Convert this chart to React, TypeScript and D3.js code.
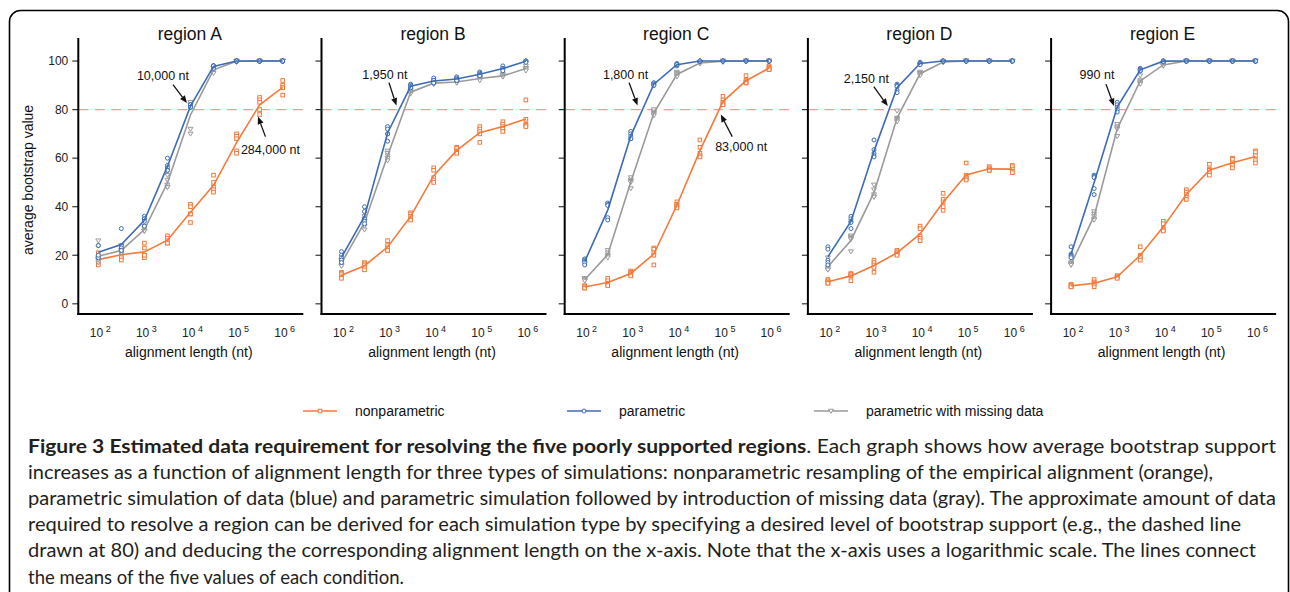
import React from 'react';
import * as d3 from 'd3';

// ---------------- data ----------------
const LENGTHS = [100, 316, 1000, 3162, 10000, 31623, 100000, 316228, 1000000];
const X_TICKS = [1e2, 1e3, 1e4, 1e5, 1e6];
const X_TICK_EXP = ['2', '3', '4', '5', '6'];
const Y_TICKS = [0, 20, 40, 60, 80, 100];
const THRESHOLD = 80;
const REGION_NAMES = ['region A', 'region B', 'region C', 'region D', 'region E'];
const SERIES_NAMES = ['nonparametric', 'parametric', 'parametric with missing data'];

// replicate values (5 per alignment length)
const nonparamA = [
  [21, 19, 18, 17, 16], [23, 21, 20, 19, 18], [25, 23, 20, 19, 20], [28, 27, 26, 25, 25],
  [41, 40, 37, 37, 33.5], [53, 50, 48, 47, 46], [70, 69, 68, 63, 62], [85, 84, 83, 80, 78],
  [92, 90, 89, 89, 86],
];
const paramA = [
  [24, 24, 19, 19, 20], [31, 24, 23, 22, 22], [36, 35, 35, 34, 32], [60, 57, 56, 55, 55],
  [82, 82, 81, 81, 81], [98, 98, 97, 98, 98], [100, 100, 100, 100, 100], [100, 100, 100, 100, 100],
  [100, 100, 100, 100, 100],
];
const missA = [
  [26, 19, 18, 17, 18], [24, 22, 22, 21, 21], [32, 31, 30, 30, 30], [53, 51, 49, 48, 48],
  [72, 70, 83, 82, 82], [97, 96, 95, 97, 97], [100, 100, 99.5, 100, 100], [100, 100, 100, 100, 100],
  [100, 100, 100, 100, 100],
];
const nonparamB = [
  [13, 12.5, 12, 11, 10.5], [17, 16.5, 16, 15, 14], [26, 24, 23, 22, 22], [37.5, 37, 36, 35, 34.5],
  [56, 55, 52, 51, 50], [64.5, 64, 63, 62.5, 62], [73, 72, 71, 70, 66.5], [75, 74, 73, 72, 71],
  [84, 76, 74, 73.5, 73],
];
const paramB = [
  [21.5, 20, 19, 18, 17], [40, 38, 35, 34, 33], [73, 72, 70, 67, 70], [90.5, 90, 89.5, 89, 89],
  [93, 92, 92, 91, 91], [93.5, 93, 92.5, 92, 92], [95.5, 95, 94.5, 94, 94], [98, 97, 97, 96.5, 96],
  [100, 100, 100, 100, 99.5],
];
const missB = [
  [18, 17.5, 17, 16, 15.5], [36, 35, 34, 32, 30.5], [63, 62, 61, 60, 59], [88, 87.5, 87, 87, 86.5],
  [91.5, 91, 91, 90.5, 90.5], [92, 91.5, 91.5, 91, 91], [93.5, 93, 93, 92.5, 92], [94.5, 94, 94, 93.5, 93.5],
  [98, 97, 97, 96.5, 96],
];
const nonparamC = [
  [7.5, 7, 7, 6.5, 6.5], [10.5, 9.5, 8.5, 8, 7.5], [13.5, 13, 12.5, 12, 11.5], [23, 22.5, 21, 20, 16],
  [42, 41, 40.5, 40, 39.5], [67.5, 64.5, 62, 61, 60.5], [85.5, 84, 83, 82, 82], [94, 92, 91.5, 91, 91],
  [98, 97.5, 97, 96.5, 96.5],
];
const paramC = [
  [18.5, 18, 17.5, 17, 16], [41.5, 41, 40.5, 35.5, 34.5], [71, 70, 69, 68, 68], [91, 91, 90.5, 90, 90],
  [99, 98.5, 98.5, 98, 98.5], [100, 100, 100, 100, 100], [100, 100, 100, 100, 100], [100, 100, 100, 100, 100],
  [100, 100, 100, 100, 100],
];
const missC = [
  [10.5, 10, 10, 9.5, 9.5], [22, 21, 20, 19.5, 19], [52, 51, 50.5, 50, 47.5], [80, 79, 78.5, 78, 77.5],
  [95.5, 95, 94.5, 94, 93.5], [99.5, 99.5, 99, 99, 99], [100, 100, 100, 99.5, 100], [100, 100, 100, 100, 100],
  [100, 100, 100, 100, 100],
];
const nonparamD = [
  [10, 9.5, 9, 8.5, 8.5], [12.5, 12, 12, 11.5, 9.5], [18, 17, 16, 15, 13], [22, 21.5, 21, 20.5, 20],
  [32, 31, 28, 27, 26], [45.5, 43, 42, 40, 38.5], [58, 53, 52, 51.5, 51], [56.5, 56, 55.5, 55, 55],
  [57, 56.5, 55.5, 54.5, 54],
];
const paramD = [
  [23.5, 22.5, 18, 17, 16], [36, 35, 34, 33.5, 31], [67.5, 63.5, 62, 61, 60.5], [90.5, 90, 89.5, 88, 87],
  [99.5, 99, 99, 99, 98.5], [100, 100, 100, 100, 100], [100, 100, 100, 100, 100], [100, 100, 100, 100, 100],
  [100, 100, 100, 100, 100],
];
const missD = [
  [19, 15, 14.5, 14, 14], [28, 27.5, 27, 26.5, 21.5], [49, 47, 45, 44, 44], [79.5, 76.5, 76, 75.5, 75],
  [95.5, 95, 95, 94.5, 94], [99.5, 99.5, 99.5, 99.5, 100], [100, 100, 100, 100, 100], [100, 100, 100, 100, 100],
  [100, 100, 100, 100, 100],
];
const nonparamE = [
  [8, 7.5, 7.5, 7, 7], [10, 9, 8.5, 8, 7], [11.5, 11.5, 11, 11, 10.5], [23.5, 20, 19.5, 19, 18],
  [34, 33, 31, 30.5, 30], [47, 46, 45, 44, 43], [57.5, 55.5, 55, 54, 53], [60, 59.5, 58, 57, 56],
  [63, 62.5, 61, 59, 58],
];
const paramE = [
  [23.5, 20.5, 20, 19.5, 19], [53, 52.5, 52, 47.5, 45], [83, 82, 81, 80, 79], [97, 96.5, 96.5, 96, 96],
  [100, 100, 100, 100, 99.8], [100, 100, 100, 100, 100], [100, 100, 100, 100, 100], [100, 100, 100, 100, 100],
  [100, 100, 100, 100, 100],
];
const missE = [
  [17, 16.5, 16.5, 16, 16], [38, 37, 36, 35, 34.5], [74, 73, 72.5, 72, 69], [94, 92, 91.5, 91, 90.5],
  [99, 98.5, 98.5, 98, 98], [100, 100, 100, 100, 100], [100, 100, 100, 100, 100], [100, 100, 100, 100, 100],
  [100, 100, 100, 100, 100],
];

const REGION_DATA = [
  [nonparamA, paramA, missA],
  [nonparamB, paramB, missB],
  [nonparamC, paramC, missC],
  [nonparamD, paramD, missD],
  [nonparamE, paramE, missE],
];

const ANNOT_LABELS = [['10,000 nt', '284,000 nt'], ['1,950 nt'], ['1,800 nt', '83,000 nt'], ['2,150 nt'], ['990 nt']];
const ANNOT_LENGTHS = [[10000, 284000], [1950], [1800, 83000], [2150], [990]];

const CAPTION_BOLD = 'Figure 3 Estimated data requirement for resolving the five poorly supported regions';
const CAPTION_LINE1_REST = '. Each graph shows how average bootstrap support';
const CAPTION_LINES = [
  'increases as a function of alignment length for three types of simulations: nonparametric resampling of the empirical alignment (orange),',
  'parametric simulation of data (blue) and parametric simulation followed by introduction of missing data (gray). The approximate amount of data',
  'required to resolve a region can be derived for each simulation type by specifying a desired level of bootstrap support (e.g., the dashed line',
  'drawn at 80) and deducing the corresponding alignment length on the x-axis. Note that the x-axis uses a logarithmic scale. The lines connect',
  'the means of the five values of each condition.',
];

// ---------------- layout / style ----------------
const W = 1290;
const H = 592;
const COLORS = ['#F47A3C', '#3C6CB5', '#9A9A9A'];
const DASH_COLOR = '#F39A9A';
const PANEL_X0 = 78.3;
const PANEL_STEP = 243.2;
const PANEL_W = 225;
const Y_TOP = 38;
const Y_BOTTOM = 314;
const CHART_FONT = '"Liberation Sans", Arial, sans-serif';
const CAPTION_FONT = 'Lato, "Open Sans", sans-serif';
// annotation offsets relative to (x(length), y(80)): tip, tail, text
const ANNOT_LAYOUT = [
  [
    { tip: [-3.5, -6.5], tail: [-17.5, -25], text: [-27.5, -30] },
    { tip: [0.5, 7], tail: [8, 27], text: [13, 44.5] },
  ],
  [{ tip: [-4.5, -4], tail: [-12, -27], text: [-16, -31] }],
  [
    { tip: [-5, -4], tail: [-13.5, -27], text: [-17, -31] },
    { tip: [1.5, 5], tail: [13, 27], text: [22, 41.5] },
  ],
  [{ tip: [-1.5, -3.5], tail: [-15.5, -23], text: [-23, -27] }],
  [{ tip: [-3, -3.5], tail: [-11, -25.5], text: [-20, -31] }],
];
const CAPTION_X = 28;
const CAPTION_BASE = 452.5;
const CAPTION_STEP = 26.2;
const CAPTION_WIDTHS = [1248, 1185, 1248, 1213, 1228];

const xScale = d3
  .scaleLog()
  .domain([Math.pow(10, 1.5662), Math.pow(10, 6.4476)])
  .range([0, PANEL_W]);
const yScale = d3.scaleLinear().domain([-4.2, 109.5]).range([Y_BOTTOM, Y_TOP]);

function Marker({ shape, x, y, color }: { shape: string; x: number; y: number; color: string }) {
  if (shape === 'square') {
    const s = 3.6;
    return <rect x={x - s / 2} y={y - s / 2} width={s} height={s} fill="white" stroke={color} strokeWidth={1} />;
  }
  if (shape === 'circle') {
    return <circle cx={x} cy={y} r={2} fill="white" stroke={color} strokeWidth={1} />;
  }
  const s = 2.5;
  return (
    <path
      d={`M${x - s},${y - s * 0.7} L${x + s},${y - s * 0.7} L${x},${y + s * 0.9} Z`}
      fill="white"
      stroke={color}
      strokeWidth={1}
    />
  );
}

const SHAPES = ['square', 'circle', 'triangle'];

function Arrow({ x1, y1, x2, y2 }: { x1: number; y1: number; x2: number; y2: number }) {
  const ang = Math.atan2(y2 - y1, x2 - x1);
  const L = 7.5;
  const Wd = 3;
  const bx = x2 - L * Math.cos(ang);
  const by = y2 - L * Math.sin(ang);
  const px = -Math.sin(ang) * Wd;
  const py = Math.cos(ang) * Wd;
  return (
    <g>
      <line x1={x1} y1={y1} x2={bx} y2={by} stroke="#111" strokeWidth={1.3} />
      <path d={`M${x2},${y2} L${bx + px},${by + py} L${bx - px},${by - py} Z`} fill="#111" />
    </g>
  );
}

function Panel({ index }: { index: number }) {
  const ox = PANEL_X0 + index * PANEL_STEP;
  const data = REGION_DATA[index];
  const order = [0, 2, 1];
  const line = d3
    .line<number>()
    .x((_, i) => xScale(LENGTHS[i]))
    .y((d) => yScale(d));
  return (
    <g transform={`translate(${ox},0)`} fontFamily={CHART_FONT}>
      <text x={PANEL_W / 2 - 1} y={40} textAnchor="middle" fontSize={17.5} fill="#111">
        {REGION_NAMES[index]}
      </text>
      {/* threshold */}
      <line
        x1={0}
        x2={PANEL_W}
        y1={yScale(THRESHOLD)}
        y2={yScale(THRESHOLD)}
        stroke={DASH_COLOR}
        strokeWidth={1.4}
        strokeDasharray="10,6.5"
      />
      {/* y ticks */}
      {Y_TICKS.map((t) => (
        <g key={t}>
          <line x1={-6} x2={0} y1={yScale(t)} y2={yScale(t)} stroke="#333" strokeWidth={1.2} />
          {index === 0 && (
            <text x={-10} y={yScale(t)} dy="0.36em" textAnchor="end" fontSize={12} fill="#222">
              {t}
            </text>
          )}
        </g>
      ))}
      {index === 0 && (
        <text
          transform={`translate(${-45},${(Y_TOP + Y_BOTTOM) / 2 + 4}) rotate(-90)`}
          textAnchor="middle"
          fontSize={14}
          fill="#111"
        >
          average bootstrap value
        </text>
      )}
      {/* series */}
      {order.map((s) => {
        const reps = data[s];
        const means = reps.map((r) => d3.mean(r) as number);
        return (
          <g key={s}>
            {reps.map((r, i) =>
              r.map((v, k) => (
                <Marker key={`${i}-${k}`} shape={SHAPES[s]} x={xScale(LENGTHS[i])} y={yScale(v)} color={COLORS[s]} />
              ))
            )}
            <path d={line(means) || ''} fill="none" stroke={COLORS[s]} strokeWidth={1.6} />
          </g>
        );
      })}
      {/* axes */}
      <line x1={0} x2={0} y1={Y_TOP} y2={Y_BOTTOM + 1} stroke="#000" strokeWidth={2} />
      <line x1={-1} x2={PANEL_W} y1={Y_BOTTOM} y2={Y_BOTTOM} stroke="#000" strokeWidth={2} />
      {X_TICKS.map((t, i) => (
        <text key={t} x={xScale(t) + 2} y={337} textAnchor="middle" fontSize={12} fill="#222">
          <tspan>10</tspan>
          <tspan dx={2.5} dy={-5} fontSize={9}>
            {X_TICK_EXP[i]}
          </tspan>
        </text>
      ))}
      <text x={PANEL_W / 2 - 2} y={357} textAnchor="middle" fontSize={14} fill="#111">
        alignment length (nt)
      </text>
      {/* annotations */}
      {ANNOT_LENGTHS[index].map((len, a) => {
        const lay = ANNOT_LAYOUT[index][a];
        const tx = xScale(len);
        const ty = yScale(THRESHOLD);
        return (
          <g key={a}>
            <Arrow x1={tx + lay.tail[0]} y1={ty + lay.tail[1]} x2={tx + lay.tip[0]} y2={ty + lay.tip[1]} />
            <text x={tx + lay.text[0]} y={ty + lay.text[1]} textAnchor="middle" fontSize={12.5} fill="#111">
              {ANNOT_LABELS[index][a]}
            </text>
          </g>
        );
      })}
    </g>
  );
}

const LEGEND_X = [303, 567, 814];

function Legend() {
  return (
    <g fontFamily={CHART_FONT}>
      {SERIES_NAMES.map((n, i) => (
        <g key={n} transform={`translate(${LEGEND_X[i]},411)`}>
          <line x1={0} x2={34} y1={0} y2={0} stroke={COLORS[i]} strokeWidth={1.5} />
          <Marker shape={SHAPES[i]} x={17} y={0} color={COLORS[i]} />
          <text x={52} y={0} dy="0.35em" fontSize={14} fill="#111">
            {n}
          </text>
        </g>
      ))}
    </g>
  );
}

function Caption() {
  return (
    <g fontFamily={CAPTION_FONT} fontSize={18.5} fill="#231f20">
      <text x={CAPTION_X} y={CAPTION_BASE} textLength={CAPTION_WIDTHS[0]} lengthAdjust="spacingAndGlyphs">
        <tspan fontWeight="bold">{CAPTION_BOLD}</tspan>
        <tspan>{CAPTION_LINE1_REST}</tspan>
      </text>
      {CAPTION_LINES.map((l, i) => (
        <text
          key={i}
          x={CAPTION_X}
          y={CAPTION_BASE + (i + 1) * CAPTION_STEP}
          {...(i < 4 ? { textLength: CAPTION_WIDTHS[i + 1], lengthAdjust: 'spacingAndGlyphs' } : {})}
        >
          {l}
        </text>
      ))}
    </g>
  );
}

export default function App() {
  return (
    <svg
      width={W}
      height={H}
      viewBox={`0 0 ${W} ${H}`}
      style={{ position: 'absolute', left: 0, top: 0, display: 'block', background: 'white' }}
    >
      <rect x={9.5} y={10.5} width={1279} height={700} rx={11} ry={11} fill="none" stroke="#000" strokeWidth={1.6} />
      {REGION_NAMES.map((_, i) => (
        <Panel key={i} index={i} />
      ))}
      <Legend />
      <Caption />
    </svg>
  );
}
